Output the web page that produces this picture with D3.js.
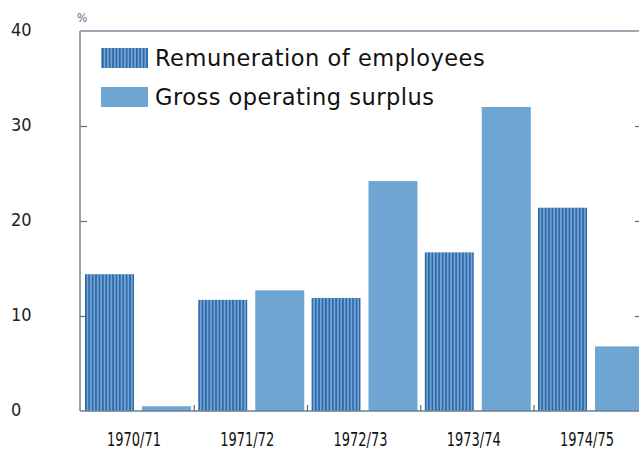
<!DOCTYPE html>
<html>
<head>
<meta charset="utf-8">
<script src="https://cdn.jsdelivr.net/npm/d3@7"></script>
<style>
  html, body { margin: 0; padding: 0; background: #fff; }
  svg { display: block; }
</style>
</head>
<body>
<div id="chart"></div>
<script>
// Annual change in income components, per cent
const years = ["1970/71", "1971/72", "1972/73", "1973/74", "1974/75"];
const seriesNames = ["Remuneration of employees", "Gross operating surplus"];
const remuneration = [14.4, 11.7, 11.9, 16.7, 21.4];
const grossSurplus = [0.5, 12.7, 24.2, 32.0, 6.8];
const yTicks = [0, 10, 20, 30, 40];

const W = 639, H = 450;
const svg = d3.select("#chart").append("svg")
  .attr("width", W).attr("height", H);

const narrow = "'Liberation Sans Narrow', 'DejaVu Sans Condensed', sans-serif";

const defs = svg.append("defs");
const pat = defs.append("pattern")
  .attr("id", "stripes")
  .attr("patternUnits", "userSpaceOnUse")
  .attr("width", 3.4).attr("height", 10);
pat.append("rect").attr("width", 3.4).attr("height", 10).attr("fill", "#6ea6d6");
pat.append("rect").attr("x", 0).attr("width", 1.6).attr("height", 10).attr("fill", "#2f65a3");

const plotLeft = 80, plotRight = 641, plotTop = 31, plotBottom = 411;

const y = d3.scaleLinear().domain([0, 40]).range([plotBottom, plotTop]);
const x0 = d3.scaleBand().domain(years).range([85, 85 + 113.25 * 5]).paddingInner(0).paddingOuter(0);
const x1 = d3.scaleBand().domain(seriesNames).range([0, 106]).paddingInner(8 / 57).paddingOuter(0);

const fills = ["url(#stripes)", "#6ea5d2"];
const data = years.map((yr, i) => ({ year: yr, values: [remuneration[i], grossSurplus[i]] }));

// top border
svg.append("line")
  .attr("x1", plotLeft).attr("x2", W).attr("y1", plotTop).attr("y2", plotTop)
  .attr("stroke", "#7d8c9c").attr("stroke-width", 1.6);

// bars
const groups = svg.append("g").selectAll("g").data(data).join("g")
  .attr("transform", d => `translate(${x0(d.year)},0)`);
groups.selectAll("rect").data(d => d.values.map((v, j) => ({ v, j })))
  .join("rect")
  .attr("x", d => x1(seriesNames[d.j]))
  .attr("width", x1.bandwidth())
  .attr("y", d => y(d.v))
  .attr("height", d => y(0) - y(d.v))
  .attr("fill", d => fills[d.j]);

// left axis
const yAxisL = d3.axisRight(y).tickValues(yTicks.filter(t => t > 0 && t < 40)).tickSize(7).tickFormat("");
const gL = svg.append("g").attr("transform", `translate(${plotLeft},0)`).call(yAxisL);
gL.select(".domain").remove();
gL.selectAll(".tick line").attr("stroke", "#5d6b7a").attr("stroke-width", 1.2);
svg.append("line")
  .attr("x1", plotLeft).attr("x2", plotLeft).attr("y1", plotTop).attr("y2", plotBottom)
  .attr("stroke", "#7d8c9c").attr("stroke-width", 1.6);

// right axis
const yAxisR = d3.axisLeft(y).tickValues(yTicks.filter(t => t > 0 && t < 40)).tickSize(6).tickFormat("");
const gR = svg.append("g").attr("transform", `translate(${plotRight},0)`).call(yAxisR);
gR.select(".domain").remove();
gR.selectAll(".tick line").attr("stroke", "#5d6b7a").attr("stroke-width", 1.2);

// y tick labels
svg.append("g").selectAll("text").data(yTicks).join("text")
  .attr("x", 11)
  .attr("y", d => y(d) + 5)
  .attr("font-family", narrow)
  .attr("font-size", 18)
  .attr("fill", "#222")
  .text(d => d);

svg.append("text")
  .attr("x", 77).attr("y", 22)
  .attr("font-family", narrow)
  .attr("font-size", 12)
  .attr("fill", "#666")
  .text("%");

// baseline and separators between years
svg.append("line")
  .attr("x1", plotLeft).attr("x2", W).attr("y1", plotBottom).attr("y2", plotBottom)
  .attr("stroke", "#6b7f95").attr("stroke-width", 1.6);
svg.append("g").selectAll("line").data(years.slice(1)).join("line")
  .attr("x1", d => x0(d) - 4).attr("x2", d => x0(d) - 4)
  .attr("y1", plotBottom).attr("y2", plotBottom - 6)
  .attr("stroke", "#5d6b7a").attr("stroke-width", 1.2);

// x labels
svg.append("g").selectAll("text").data(years).join("text")
  .attr("x", d => x0(d) + 49 - 27)
  .attr("y", 446)
  .attr("font-family", narrow)
  .attr("font-size", 20)
  .attr("textLength", 54)
  .attr("lengthAdjust", "spacingAndGlyphs")
  .attr("fill", "#111")
  .text(d => d);

// legend
const legend = svg.append("g");
seriesNames.forEach((name, i) => {
  const ly = 48 + i * 39;
  legend.append("rect")
    .attr("x", 101).attr("y", ly).attr("width", 47).attr("height", 20)
    .attr("fill", fills[i]);
  legend.append("text")
    .attr("x", 155).attr("y", ly + 18)
    .attr("font-family", "'DejaVu Sans', sans-serif")
    .attr("font-size", 22.5)
    .attr("letter-spacing", 0.5)
    .attr("fill", "#111")
    .text(name);
});
</script>
</body>
</html>
